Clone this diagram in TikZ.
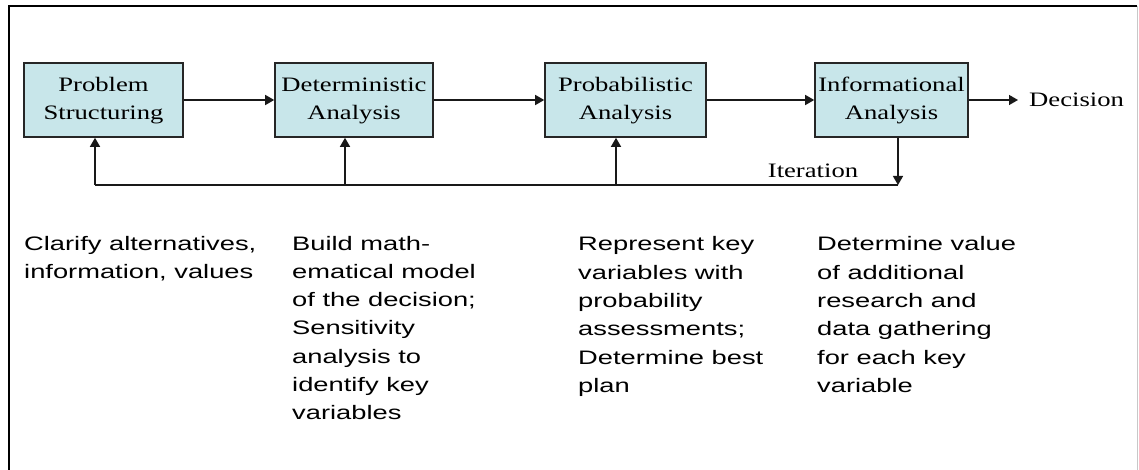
\documentclass[tikz,border=0pt]{standalone}
\usepackage{fontspec}
\usepackage{graphicx}
\setmainfont{Liberation Serif}
\newfontfamily\notefont{Liberation Sans}
\usetikzlibrary{arrows.meta}

% widened text, as set in the flow chart
\newcommand{\widebox}[2]{\scalebox{#1}[1]{#2}}
\newcommand{\stagetext}[1]{\widebox{1.3}{\begin{tabular}{@{}c@{}}#1\end{tabular}}}
\newcommand{\notetext}[1]{\widebox{1.4}{\begin{tabular}[t]{@{}l@{}}#1\end{tabular}}}

\definecolor{stagefill}{RGB}{200,230,234}
\definecolor{framegray}{RGB}{200,200,200}

\tikzset{
  stage/.style={draw=black!85, line width=1.6pt, fill=stagefill, rectangle,
    minimum height=74pt, inner sep=0pt,
    font=\fontsize{20.5}{28}\selectfont},
  plain/.style={inner sep=0pt, font=\fontsize{20.5}{28}\selectfont},
  note/.style={inner sep=0pt, anchor=base west,
    font=\notefont\fontsize{19.5}{28.3}\selectfont},
  link/.style={line width=1.4pt, draw=black!90},
  arr/.style={link, -{Triangle[length=9pt, width=10pt]}},
}

\begin{document}
\begin{tikzpicture}[x=1pt, y=-1pt]
\useasboundingbox (0,0) rectangle (1139,470);

% outer frame
\draw[line width=2pt] (9,470) -- (9,6) -- (1137,6);
\draw[framegray, line width=1pt] (1137.5,6) -- (1137.5,470);

% the four stages
\node[stage, minimum width=159pt] (b1) at (103.5,100) {\stagetext{Problem\\Structuring}};
\node[stage, minimum width=158pt] (b2) at (354,100) {\stagetext{Deterministic\\Analysis}};
\node[stage, minimum width=161pt] (b3) at (625.5,100) {\stagetext{Probabilistic\\Analysis}};
\node[stage, minimum width=153pt] (b4) at (891.5,100) {\stagetext{Informational\\Analysis}};

% outcome
\node[plain, anchor=west, inner xsep=11pt] (dec) at (1018,100) {\widebox{1.3}{Decision}};

% forward flow
\draw[arr] (b1) -- (b2);
\draw[arr] (b2) -- (b3);
\draw[arr] (b3) -- (b4);
\draw[arr] (b4) -- (dec);

% iteration loop
\coordinate (it) at (898,185);
\coordinate (r1) at (95,185);
\coordinate (r2) at (345,185);
\coordinate (r3) at (616,185);
\draw[arr] (b4.south -| it) -- (it);
\draw[link] (it) -- (r1);
\draw[arr] (r1) -- (r1 |- b1.south);
\draw[arr] (r2) -- (r2 |- b2.south);
\draw[arr] (r3) -- (r3 |- b3.south);
\node[plain, anchor=base] (itl) at (813,178) {\widebox{1.3}{Iteration}};

% descriptions of each stage
\node[note] (n1) at (24,250) {\notetext{Clarify alternatives,\\information, values}};
\node[note] (n2) at (292,250) {\notetext{Build math-\\ematical model\\of the decision;\\Sensitivity\\analysis to\\identify key\\variables}};
\node[note] (n3) at (578,251) {\notetext{Represent key\\variables with\\probability\\assessments;\\Determine best\\plan}};
\node[note] (n4) at (817,251) {\notetext{Determine value\\of additional\\research and\\data gathering\\for each key\\variable}};
\end{tikzpicture}
\end{document}
